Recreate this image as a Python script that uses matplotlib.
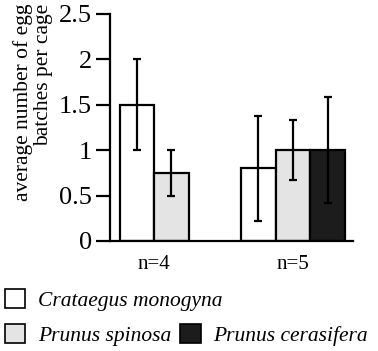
import matplotlib
matplotlib.use('Agg')
import matplotlib.pyplot as plt
from matplotlib.patches import Patch

plt.rcParams['font.family'] = 'Liberation Serif'

# ── Data ───────────────────────────────────────────────────────────────────────
GROUPS  = ['n=4', 'n=5']
SPECIES = ['Crataegus monogyna', 'Prunus spinosa', 'Prunus cerasifera']
COLORS  = ['white', '#e4e4e4', '#1c1c1c']

MEANS_N4 = [1.5, 0.75]
ERRS_N4  = [0.5, 0.25]
MEANS_N5 = [0.8, 1.0, 1.0]
ERRS_N5  = [0.58, 0.33, 0.58]

YTICKS = [0, 0.5, 1, 1.5, 2, 2.5]
YTICKLABELS = ['0', '0.5', '1', '1.5', '2', '2.5']

# ── Figure ─────────────────────────────────────────────────────────────────────
fig = plt.figure(figsize=(3.78, 3.51), dpi=100)
ax = fig.add_axes([0.291, 0.3134, 0.643, 0.647])

group_data = [(MEANS_N4, ERRS_N4), (MEANS_N5, ERRS_N5)]
group_start = [0, 3.52]
for gi, (means, errs) in enumerate(group_data):
    for si, (m, e) in enumerate(zip(means, errs)):
        x = group_start[gi] + si
        ax.bar(x, m, width=1.0, color=COLORS[si], edgecolor='black', lw=1.6, zorder=2)
        ax.errorbar(x, m, yerr=e, fmt='none', ecolor='black', elinewidth=1.6,
                    capsize=3, capthick=1.6, zorder=3)

centers = [group_start[0] + 0.5, group_start[1] + 1.0]
ax.set_xticks(centers)
ax.set_xticklabels(GROUPS, fontsize=15)
ax.tick_params(axis='x', length=0, pad=10)

ax.set_xlim(-0.78, 6.26)
ax.set_ylim(0, 2.5)
ax.set_yticks(YTICKS)
ax.set_yticklabels(YTICKLABELS, fontsize=19)
ax.tick_params(axis='y', direction='out', length=10, width=1.6, pad=3)

for s in ['top', 'right']:
    ax.spines[s].set_visible(False)
for s in ['left', 'bottom']:
    ax.spines[s].set_linewidth(1.6)

# y label: two lines, ends aligned at the top
fig.text(33 / 378, 0.99, 'average number of egg\nbatches per cage', rotation=90,
         ha='center', va='top', multialignment='right', fontsize=15.5,
         linespacing=1.05)

# ── Legend ────────────────────────────────────────────────────────────────────
handles = [Patch(facecolor=c, edgecolor='black', lw=1.2) for c in COLORS]
kw = dict(frameon=False, prop={'style': 'italic', 'size': 15.5},
          handlelength=0.95, handleheight=0.95, handletextpad=0.6,
          borderpad=0, borderaxespad=0, loc='center left')
fig.legend([handles[0]], [SPECIES[0]], bbox_to_anchor=(5 / 378, 1 - 300 / 351), **kw)
fig.legend(handles[1:], SPECIES[1:], ncol=2, columnspacing=0.4,
           bbox_to_anchor=(5 / 378, 1 - 335 / 351), **kw)

fig.savefig('out.png', dpi=100, facecolor='white')
